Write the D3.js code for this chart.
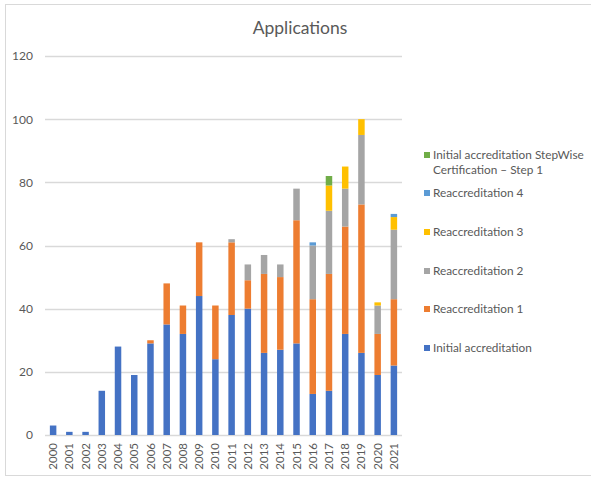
<!DOCTYPE html>
<html>
<head>
	<meta charset="utf-8">
	<title>Applications</title>
	<script src="https://cdn.jsdelivr.net/npm/d3@7"></script>
	<style type="text/css">
		body { margin: 0; background: #fff; }
		text { font-family: Lato, "Liberation Sans", sans-serif; fill: #595959; }
		.axis path, .axis line { display: none; }
	</style>
</head>
<body>
	<script type="text/javascript">
		var width = 591;
		var height = 477;

		// years on the x axis
		var years = ["2000","2001","2002","2003","2004","2005","2006","2007","2008","2009","2010",
			"2011","2012","2013","2014","2015","2016","2017","2018","2019","2020","2021"];

		// series values, one per year (stack order bottom -> top)
		var initialAcc = [3,1,1,14,28,19,29,35,32,44,24,38,40,26,27,29,13,14,32,26,19,22];
		var reacc1     = [0,0,0,0,0,0,1,13,9,17,17,23,9,25,23,39,30,37,34,47,13,21];
		var reacc2     = [0,0,0,0,0,0,0,0,0,0,0,1,5,6,4,10,17,20,12,22,9,22];
		var reacc3     = [0,0,0,0,0,0,0,0,0,0,0,0,0,0,0,0,0,8,7,5,1,4];
		var reacc4     = [0,0,0,0,0,0,0,0,0,0,0,0,0,0,0,0,1,0,0,0,0,1];
		var stepwise   = [0,0,0,0,0,0,0,0,0,0,0,0,0,0,0,0,0,3,0,0,0,0];

		var seriesNames = ["Initial accreditation", "Reaccreditation 1", "Reaccreditation 2",
			"Reaccreditation 3", "Reaccreditation 4", "Initial accreditation StepWise Certification \u2013 Step 1"];
		var seriesValues = [initialAcc, reacc1, reacc2, reacc3, reacc4, stepwise];
		var colors = ["#4472C4", "#ED7D31", "#A5A5A5", "#FFC000", "#5B9BD5", "#70AD47"];
		var yTicks = [0, 20, 40, 60, 80, 100, 120];

		var rows = years.map(function (y, i) {
			var r = { year: y };
			seriesNames.forEach(function (n, k) { r[n] = seriesValues[k][i]; });
			return r;
		});

		var svg = d3.select("body")
					.append("svg")
					.attr("width", width)
					.attr("height", height);

		// outer chart border (right edge runs off the picture)
		svg.append("rect")
			.attr("x", 5.5).attr("y", 4.5)
			.attr("width", 600).attr("height", 471)
			.attr("fill", "none")
			.attr("stroke", "#d9d9d9");

		var plot = { left: 45, right: 402, top: 56, bottom: 435 };

		var xScale = d3.scaleBand()
						.domain(years)
						.range([plot.left, plot.right])
						.paddingInner(0.6)
						.paddingOuter(0.3);

		var yScale = d3.scaleLinear()
						.domain([0, 120])
						.range([plot.bottom, plot.top]);

		// gridlines
		svg.append("g")
			.selectAll("line")
			.data(yTicks)
			.enter()
			.append("line")
			.attr("x1", plot.left)
			.attr("x2", plot.right)
			.attr("y1", function (d) { return Math.round(yScale(d)) + 0.5; })
			.attr("y2", function (d) { return Math.round(yScale(d)) + 0.5; })
			.attr("stroke", "#d9d9d9")
			.attr("stroke-width", 1.3);

		var stack = d3.stack().keys(seriesNames);
		var stacked = stack(rows);

		svg.append("g")
			.selectAll("g")
			.data(stacked)
			.enter()
			.append("g")
			.attr("fill", function (d, i) { return colors[i]; })
			.selectAll("rect")
			.data(function (d) { return d; })
			.enter()
			.append("rect")
			.attr("x", function (d) { return xScale(d.data.year); })
			.attr("y", function (d) { return yScale(d[1]); })
			.attr("width", xScale.bandwidth())
			.attr("height", function (d) { return yScale(d[0]) - yScale(d[1]); });

		// y axis (labels only)
		var yAxis = d3.axisLeft(yScale)
						.tickValues(yTicks)
						.tickSize(0)
						.tickPadding(12);

		svg.append("g")
			.attr("class", "axis")
			.attr("transform", "translate(" + plot.left + ",0)")
			.call(yAxis)
			.selectAll("text")
			.attr("font-size", "12px")
			.attr("fill", "#595959");

		// x axis, rotated year labels
		var xAxis = d3.axisBottom(xScale).tickSize(0).tickPadding(0);
		var xg = svg.append("g")
			.attr("class", "axis")
			.attr("transform", "translate(0," + plot.bottom + ")")
			.call(xAxis);
		xg.selectAll("text")
			.attr("font-size", "11.5px")
			.attr("fill", "#595959")
			.attr("text-anchor", "end")
			.attr("dy", "0.35em")
			.attr("transform", "translate(0,8) rotate(-90)")
			.attr("x", 0)
			.attr("y", 0);

		// title
		svg.append("text")
			.attr("x", 300)
			.attr("y", 34)
			.attr("text-anchor", "middle")
			.attr("font-size", "17.5px")
			.text("Applications");

		// legend (reverse order, top = last series)
		var legendY = [155, 193, 232, 271, 309, 348];
		var legend = svg.append("g");
		seriesNames.slice().reverse().forEach(function (name, i) {
			var k = seriesNames.length - 1 - i;
			var g = legend.append("g");
			g.append("rect")
				.attr("x", 424)
				.attr("y", legendY[i] - 3)
				.attr("width", 6)
				.attr("height", 6)
				.attr("fill", colors[k]);
			if (k === 5) {
				var t = g.append("text")
					.attr("x", 433)
					.attr("y", legendY[i] + 4)
					.attr("font-size", "11.8px");
				t.append("tspan").attr("x", 433).text("Initial accreditation StepWise");
				t.append("tspan").attr("x", 433).attr("dy", 15).text("Certification \u2013 Step 1");
			} else {
				g.append("text")
					.attr("x", 433)
					.attr("y", legendY[i] + 4)
					.attr("font-size", "11.8px")
					.text(name);
			}
		});
	</script>
</body>
</html>
